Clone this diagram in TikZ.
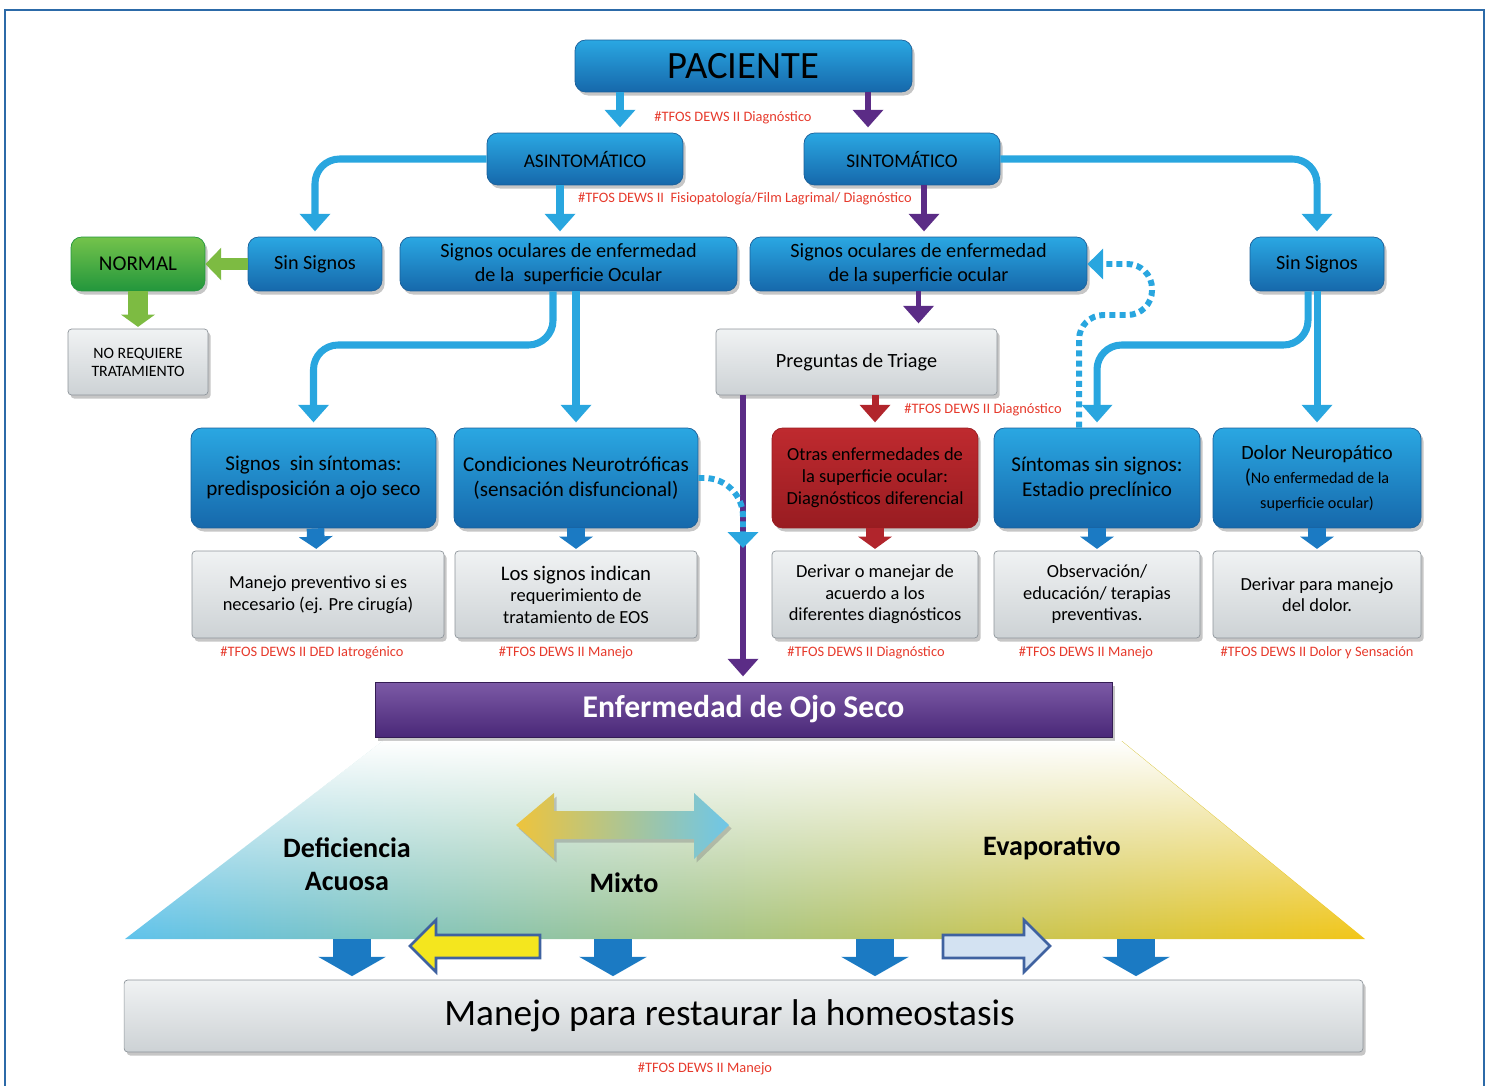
\documentclass[tikz,border=0pt]{standalone}
\usepackage{fontspec}
\setmainfont{Carlito}
\usetikzlibrary{arrows.meta,shadows,fadings}
\definecolor{boxtop}{HTML}{2AA7E2}
\definecolor{boxbot}{HTML}{1668AB}
\definecolor{boxedge}{HTML}{1B5F99}
\definecolor{greytop}{HTML}{F0F2F3}
\definecolor{greybot}{HTML}{CDD2D5}
\definecolor{greyedge}{HTML}{8D949A}
\definecolor{redtop}{HTML}{BF2A2F}
\definecolor{redbot}{HTML}{981C21}
\definecolor{greentop}{HTML}{74C34B}
\definecolor{greenbot}{HTML}{22963C}
\definecolor{purptop}{HTML}{7C5AA6}
\definecolor{purpbot}{HTML}{4A2878}
\definecolor{lineblue}{HTML}{29A6DF}
\definecolor{linepurple}{HTML}{5B2C86}
\definecolor{linered}{HTML}{B1252C}
\definecolor{linegreen}{HTML}{7DBB42}
\definecolor{tagred}{HTML}{E63A2C}
\definecolor{trapblue}{HTML}{5FC3EC}
\definecolor{trapmid}{HTML}{C6D28C}
\definecolor{trapyellow}{HTML}{F2C618}
\definecolor{mixyellow}{HTML}{EEC43C}
\definecolor{mixblue}{HTML}{6EC6E8}
\definecolor{arrowblue}{HTML}{1B7AC3}
\definecolor{yellowfill}{HTML}{F4E61E}
\definecolor{arrowedge}{HTML}{3F62A0}
\definecolor{paleblue}{HTML}{D3E2F2}
\definecolor{framecolor}{HTML}{2C6AA8}
\tikzfading[name=topfade, top color=transparent!0, bottom color=transparent!100]
\begin{document}
\begin{tikzpicture}
[x=0.02cm, y=-0.02cm,
  boxdecorate/.style={shape=rectangle, rounded corners=6pt, draw=boxedge,
    top color=boxtop, bottom color=boxbot, align=center, inner sep=2pt,
    drop shadow={opacity=0.45, shadow xshift=1.5pt, shadow yshift=-2pt},
    font=\fontsize{11.5}{13.7}\selectfont},
  greydecorate/.style={boxdecorate, rounded corners=2pt, draw=greyedge,
    top color=greytop, bottom color=greybot},
  reddecorate/.style={boxdecorate, draw=redbot, top color=redtop, bottom color=redbot},
  greendecorate/.style={boxdecorate, draw=greenbot, top color=greentop, bottom color=greenbot},
  purpledecorate/.style={boxdecorate, rounded corners=0pt, draw=purpbot!70!black,
    top color=purptop, bottom color=purpbot, text=white},
  tagdecorate/.style={text=tagred, inner sep=1pt, font=\fontsize{8.2}{9}\selectfont},
  bigtext/.style={align=center, inner sep=1pt, font=\bfseries\fontsize{16}{19}\selectfont},
  linedecorate/.style={lineblue, line width=4pt, shorten >=3pt,
    -{Triangle[width=17pt,length=10pt]}},
  purpledline/.style={linedecorate, linepurple, line width=3pt},
  redline/.style={linedecorate, linered},
  greenline/.style={linegreen, line width=7pt, -{Triangle[width=18pt,length=9pt]}},
  fatdecorate/.style={line width=10pt, shorten >=1pt, -{Triangle[width=19pt,length=7pt]}},
  dotdecorate/.style={lineblue, line width=3.4pt, dash pattern=on 3.4pt off 2.4pt,
    -{Triangle[width=17pt,length=9pt]}},
  bigdecorate/.style={arrowblue, line width=22pt, shorten >=2pt,
    -{Triangle[width=38pt,length=11pt]}}]
\useasboundingbox (0,0) rectangle (1486,1085);
\draw[framecolor, line width=0.8pt] (5,10) rectangle (1484,1100);
%% nodes or boxes
\node (pac) at (743.5,66) [boxdecorate, minimum width=6.74cm, minimum height=1.04cm,
  font=\fontsize{22}{24}\selectfont] {PACIENTE};
\node (asin) at (585,159) [boxdecorate, minimum width=3.92cm, minimum height=1.04cm,
  font=\fontsize{11}{13}\selectfont] {ASINTOMÁTICO};
\node (sint) at (902,159) [boxdecorate, minimum width=3.92cm, minimum height=1.04cm,
  font=\fontsize{11}{13}\selectfont] {SINTOMÁTICO};
\node (normal) at (138,264) [greendecorate, minimum width=2.68cm, minimum height=1.08cm,
  font=\fontsize{12}{14}\selectfont] {NORMAL};
\node (sinL) at (315,264) [boxdecorate, minimum width=2.68cm, minimum height=1.08cm] {Sin Signos};
\node (socL) at (568.5,264) [boxdecorate, minimum width=6.74cm, minimum height=1.08cm]
  {Signos oculares de enfermedad\\de la~ superficie Ocular};
\node (socR) at (918.5,264) [boxdecorate, minimum width=6.74cm, minimum height=1.08cm]
  {Signos oculares de enfermedad\\de la superficie ocular};
\node (sinR) at (1317,264) [boxdecorate, minimum width=2.68cm, minimum height=1.08cm] {Sin Signos};
\node (noreq) at (138,362) [greydecorate, minimum width=2.8cm, minimum height=1.32cm,
  font=\fontsize{9}{10.3}\selectfont] {NO REQUIERE\\TRATAMIENTO};
\node (triage) at (856.5,362) [greydecorate, minimum width=5.62cm, minimum height=1.32cm]
  {Preguntas de Triage};
\node (sss) at (313.5,478) [boxdecorate, minimum width=4.9cm, minimum height=2cm,
  font=\fontsize{12}{14.2}\selectfont] {Signos~ sin síntomas:\\predisposición a ojo seco};
\node (neuro) at (576,478) [boxdecorate, minimum width=4.88cm, minimum height=2cm,
  font=\fontsize{12}{14.2}\selectfont] {Condiciones Neurotróficas\\(sensación disfuncional)};
\node (otras) at (875,478) [reddecorate, minimum width=4.12cm, minimum height=2cm,
  font=\fontsize{10.5}{12.5}\selectfont]
  {Otras enfermedades de\\la superficie ocular:\\Diagnósticos diferencial};
\node (sintsin) at (1097,478) [boxdecorate, minimum width=4.12cm, minimum height=2cm,
  font=\fontsize{12}{14.2}\selectfont] {Síntomas sin signos:\\Estadio preclínico};
\node (dolor) at (1317,478) [boxdecorate, minimum width=4.16cm, minimum height=2cm,
  font=\fontsize{11.5}{14}\selectfont]
  {Dolor Neuropático\\({\fontsize{9.2}{12}\selectfont No enfermedad de la}\\
   {\fontsize{9.2}{12}\selectfont superficie ocular)}};
\foreach \nodename/\x/\w/\boxtext in {
  mp/318/5.04/{Manejo preventivo si es\\necesario (ej. Pre cirugía)},
  lsi/576/4.84/{\fontsize{11.8}{13.9}\selectfont Los signos indican\\requerimiento de\\tratamiento de EOS},
  der/875/4.12/{Derivar o manejar de\\acuerdo a los\\diferentes diagnósticos},
  obs/1097/4.12/{Observación/\\educación/ terapias\\preventivas.},
  ddd/1317/4.16/{Derivar para manejo\\del dolor.}} {
  \node (\nodename) at (\x,594.5) [greydecorate, minimum width=\w cm, minimum height=1.74cm,
    font=\fontsize{10.5}{12.2}\selectfont] {\boxtext};
}
\node (eos) at (743.5,709.5) [purpledecorate, minimum width=14.74cm, minimum height=1.1cm,
  font=\bfseries\fontsize{18}{20}\selectfont] {Enfermedad de Ojo Seco};
\node (man) at (743.5,1016) [greydecorate, minimum width=24.78cm, minimum height=1.44cm,
  font=\fontsize{21.2}{24}\selectfont] {Manejo para restaurar la homeostasis\hspace*{0.56cm}};
%% tags
\foreach \tagname/\x/\y/\tagtext in {t1/733/118/Diagnóstico, t3/983/410/Diagnóstico,
  t4/312/653/DED Iatrogénico, t5/566/653/Manejo, t6/866/653/Diagnóstico,
  t7/1086/653/Manejo, t8/1317/653/Dolor y Sensación, t9/705/1069/Manejo} {
  \node (\tagname) at (\x,\y) [tagdecorate] {\#TFOS DEWS II \tagtext};
}
\node (t2) at (745,199) [tagdecorate] {\#TFOS DEWS II~ Fisiopatología/Film Lagrimal/ Diagnóstico};
%% edges or arrows
\draw[linedecorate] (620,0 |- pac.south) -- (620,0 |- asin.north);
\draw[purpledline] (868,0 |- pac.south) -- (868,0 |- sint.north);
\draw[linedecorate, rounded corners=14pt] (asin.west) -| (sinL.north);
\draw[linedecorate] (560,0 |- asin.south) -- (560,0 |- socL.north);
\draw[purpledline] (924,0 |- sint.south) -- (924,0 |- socR.north);
\draw[linedecorate, rounded corners=14pt] (sint.east) -| (sinR.north);
\draw[greenline] (sinL.west) -- (normal.east);
\draw[fatdecorate, linegreen, line width=11pt] (normal.south) -- (noreq.north);
\draw[linedecorate, rounded corners=14pt] (553,0 |- socL.south) -- (553,345) -| (sss.north);
\draw[linedecorate] (neuro.north |- socL.south) -- (neuro.north);
\draw[purpledline] (socR.south) -- (socR.south |- triage.north);
\draw[purpledline] (743,0 |- triage.south) -- (743,0 |- eos.north);
\draw[redline] (otras.north |- triage.south) -- (otras.north);
\draw[linedecorate, rounded corners=14pt] (1308,0 |- sinR.south) -- (1308,345) -| (sintsin.north);
\draw[linedecorate] (dolor.north |- sinR.south) -- (dolor.north);
\draw[dotdecorate, rounded corners=14pt] (1079,0 |- sintsin.north) -- (1079,315)
  -- (1152,315) -- (1152,264) -- (socR.east);
\coordinate (neurotip) at (743,548);
\draw[dotdecorate, rounded corners=22pt] (neuro.east) -| (neurotip);
\foreach \startnode/\endnode/\colour in {sss/mp/arrowblue, neuro/lsi/arrowblue,
  otras/der/linered, sintsin/obs/arrowblue, dolor/ddd/arrowblue} {
  \draw[fatdecorate, \colour] (\startnode) -- (\endnode);
}
%% dry eye part
\shade[left color=trapblue, middle color=trapmid, right color=trapyellow]
  (383,741) -- (1122,741) -- (1365,939) -- (125,939) -- cycle;
\fill[white, path fading=topfade] (383,741) -- (1122,741) -- (1365,939) -- (125,939) -- cycle;
\shade[left color=mixyellow, right color=mixblue, drop shadow={opacity=0.4, shadow xshift=1.5pt, shadow yshift=-2pt}]
  (516,825) -- (554,793) -- (554,811) -- (694,811) -- (694,793) -- (729,825)
  -- (694,859) -- (694,839) -- (554,839) -- (554,859) -- cycle;
\node (defic) at (347,864) [bigtext] {Deficiencia\\Acuosa};
\node (mixto) at (624,883) [bigtext] {Mixto};
\node (evap) at (1052,848) [bigtext] {Evaporativo};
\coordinate (trapbase) at (743,939);
\foreach \x in {352,613,875,1136} {
  \draw[bigdecorate] (\x,0 |- trapbase) -- (\x,0 |- man.north);
}
\filldraw[fill=yellowfill, draw=arrowedge, line width=1.5pt]
  (410,946) -- (436,920) -- (436,935) -- (540,935) -- (540,958) -- (436,958) -- (436,972) -- cycle;
\filldraw[fill=paleblue, draw=arrowedge, line width=1.5pt]
  (1050,946) -- (1024,920) -- (1024,935) -- (943,935) -- (943,958) -- (1024,958) -- (1024,972) -- cycle;
\end{tikzpicture}
\end{document}
